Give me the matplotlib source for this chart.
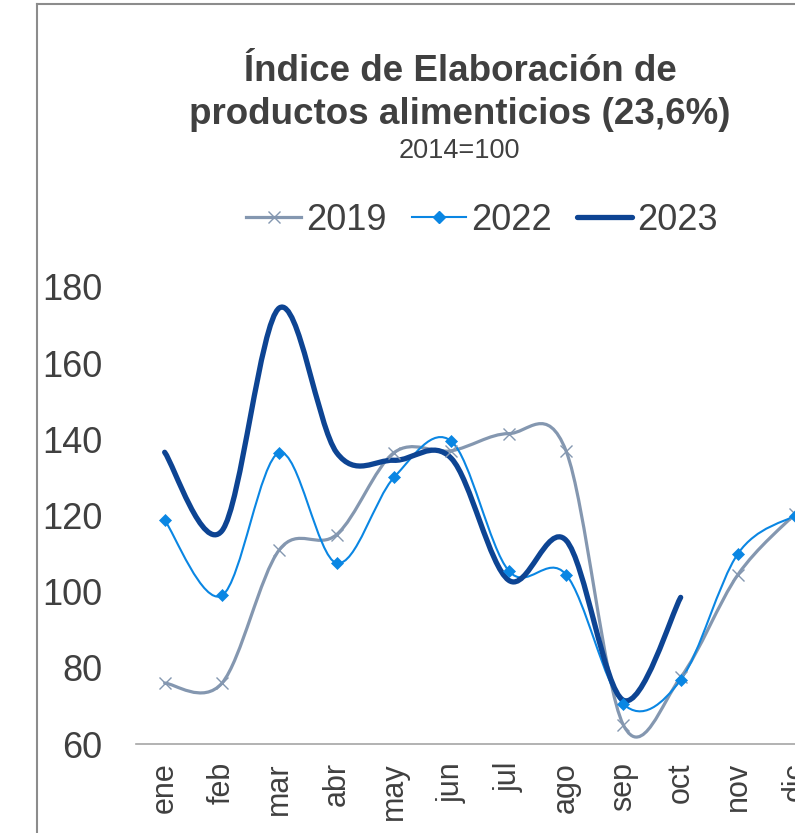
import numpy as np
import matplotlib.pyplot as plt
from matplotlib.path import Path
from matplotlib.patches import PathPatch
from matplotlib.lines import Line2D

plt.rcParams['font.family'] = ['Liberation Sans', 'DejaVu Sans']

months = ['ene', 'feb', 'mar', 'abr', 'may', 'jun', 'jul', 'ago', 'sep', 'oct', 'nov', 'dic']
v2019 = [76, 76, 111, 115, 136.5, 137, 141.5, 137, 65, 77.5, 104.5, 120.5]
v2022 = [118.8, 99, 136.5, 107.5, 130, 139.5, 105.5, 104.5, 70.5, 76.8, 110, 120]
v2023 = [136.6, 116, 174.5, 136.5, 134.5, 135, 103, 113.5, 71.5, 98.5]

c2019 = '#8497B0'
c2022 = '#0A86E3'
c2023 = '#0D4493'
txt = '#404040'


def smooth_path(y):
    # excel-like smoothed line: cubic bezier segments through the points
    pts = np.column_stack([np.arange(len(y)), y]).astype(float)
    n = len(pts)
    verts = [pts[0]]
    codes = [Path.MOVETO]
    for i in range(n - 1):
        p0 = pts[i - 1] if i > 0 else pts[i]
        p1 = pts[i]
        p2 = pts[i + 1]
        p3 = pts[i + 2] if i + 2 < n else pts[i + 1]
        verts += [p1 + (p2 - p0) / 6, p2 - (p3 - p1) / 6, p2]
        codes += [Path.CURVE4] * 3
    return Path(verts, codes)


fig = plt.figure(figsize=(7.95, 8.33), dpi=100)
ax = fig.add_axes([136 / 795, 89 / 833, 688 / 795, 457 / 833])

for vals, col, lw, mk, ms in [(v2019, c2019, 2.3, 'x', 9),
                              (v2022, c2022, 1.5, 'D', 6),
                              (v2023, c2023, 3.8, None, 0)]:
    ax.add_patch(PathPatch(smooth_path(vals), fill=False, edgecolor=col, lw=lw,
                           capstyle='round', joinstyle='round'))
    if mk:
        ax.plot(range(len(vals)), vals, ls='none', marker=mk, ms=ms, color=col,
                mew=1.0 if mk == 'x' else 0.5)

ax.set_xlim(-0.5, 11.5)
ax.set_ylim(60, 180)
ax.set_yticks(range(60, 181, 20))
ax.set_xticks(range(12))
ax.set_xticklabels(months, rotation=90, va='top')
ax.tick_params(axis='y', length=0, pad=24, labelsize=26, labelcolor=txt)
ax.tick_params(axis='x', length=0, pad=13, labelsize=22, labelcolor=txt)
for s in ['top', 'right', 'left']:
    ax.spines[s].set_visible(False)
ax.spines['bottom'].set_color('#A6A6A6')
ax.spines['bottom'].set_linewidth(1.2)

fig.text(460 / 795, 1 - 93 / 833, 'Índice de Elaboración de\nproductos alimenticios (23,6%)',
         ha='center', va='center', fontsize=26.5, fontweight='bold', color=txt,
         linespacing=1.3)
fig.text(459 / 795, 1 - 151 / 833, '2014=100', ha='center', va='center',
         fontsize=19.5, color=txt)

handles = [Line2D([], [], color=c2019, lw=2.3, marker='x', ms=9, mew=1.0),
           Line2D([], [], color=c2022, lw=1.5, marker='D', ms=6),
           Line2D([], [], color=c2023, lw=3.8, solid_capstyle='round')]
leg = fig.legend(handles, ['2019', '2022', '2023'], loc='center', ncol=3,
                 bbox_to_anchor=(482 / 795, 1 - 220 / 833), frameon=False,
                 fontsize=26, handlelength=1.5, handletextpad=0.15, columnspacing=0.7)
for t in leg.get_texts():
    t.set_color(txt)

# chart frame (cropped on the right and bottom)
fig.add_artist(Line2D([37 / 795, 37 / 795], [0, 1 - 4 / 833], color='#8C8C8C', lw=1.5))
fig.add_artist(Line2D([37 / 795, 1], [1 - 4 / 833, 1 - 4 / 833], color='#8C8C8C', lw=1.5))

fig.savefig('out.png', dpi=100)
